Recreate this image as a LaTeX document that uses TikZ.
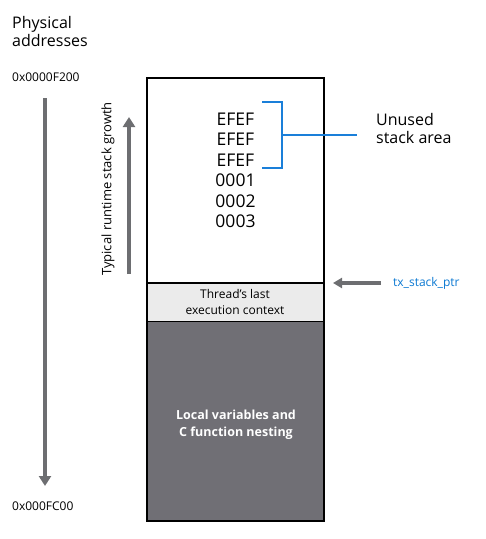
\documentclass[tikz,border=0pt]{standalone}
\usepackage{fontspec}
\setmainfont{Open Sans}
\usetikzlibrary{arrows.meta}
\definecolor{darkfill}{HTML}{706F75}
\definecolor{lightfill}{HTML}{EBEBEB}
\definecolor{arrowgray}{HTML}{6D6E71}
\definecolor{blueline}{HTML}{1A7FD9}
\definecolor{bluetext}{HTML}{0A78D2}
\tikzset{
  biglabel/.style={font=\fontsize{16}{20}\selectfont, align=left, inner sep=0pt},
  addr/.style={font=\fontsize{12}{14}\selectfont, inner sep=0pt, anchor=west},
  word/.style={font=\fontsize{17.5}{20}\selectfont, inner sep=0pt},
  small/.style={font=\fontsize{12}{16}\selectfont, align=center, inner sep=0pt},
  grayarrow/.style={draw=arrowgray, line width=4pt, -{Triangle[length=10pt,width=12pt]}},
  bracket/.style={draw=blueline, line width=1.5pt},
}
\begin{document}
\begin{tikzpicture}[x=1pt,y=-1pt]
\useasboundingbox (0,0) rectangle (486,539);
% stack boxes
\fill[darkfill] (147,321) rectangle (324,521);
\fill[lightfill] (147,283) rectangle (324,321);
\draw[line width=1.5pt] (147,283) -- (324,283);
\draw[line width=1pt] (147,321) -- (324,321);
\draw[line width=1.5pt] (147,78) rectangle (324,521);
% left labels
\node[biglabel, anchor=west] (phys) at (12,31) {Physical\\[-2pt]addresses};
\node[addr] (top) at (12,77) {0x0000F200};
\node[addr] (bot) at (12,506) {0x000FC00};
\coordinate (dtop) at (45,98);
\coordinate (dbot) at (45,486);
\draw[grayarrow] (dtop) -- (dbot);
\coordinate (ubot) at (129,274);
\coordinate (utop) at (129,117);
\draw[grayarrow] (ubot) -- (utop);
\node[font=\fontsize{13}{15}\selectfont, rotate=90, inner sep=0pt] (growth) at (108,189) {Typical runtime stack growth};
% words
\foreach \t [count=\i] in {EFEF,EFEF,EFEF,0001,0002,0003}
  \node[word] (w\i) at (235.5,{98.5+20.5*\i}) {\t};
% bracket
\coordinate (b1) at (262,102);
\coordinate (b2) at (282,102);
\coordinate (b3) at (282,168);
\coordinate (b4) at (262,168);
\coordinate (bm) at (282,135);
\coordinate (be) at (357,135);
\draw[bracket] (b1) -- (b2) -- (b3) -- (b4);
\draw[bracket] (bm) -- (be);
\node[biglabel, anchor=west] (unused) at (376,128) {Unused\\[-2pt]stack area};
% stack pointer
\node[font=\fontsize{12}{14}\selectfont, text=bluetext, anchor=west, inner sep=0pt] (ptr) at (393,283) {tx\_stack\_ptr};
\coordinate (pstart) at (381,283);
\coordinate (pend) at (333,283);
\draw[draw=arrowgray, line width=3.2pt, -{Triangle[length=9pt,width=10pt]}] (pstart) -- (pend);
% inner labels
\node[small] (ctx) at (235,302) {Thread’s last\\execution context};
\node[small, font=\bfseries\fontsize{12.5}{17}\selectfont, text=white] (locals) at (236,425) {Local variables and\\C function nesting};
\end{tikzpicture}
\end{document}
